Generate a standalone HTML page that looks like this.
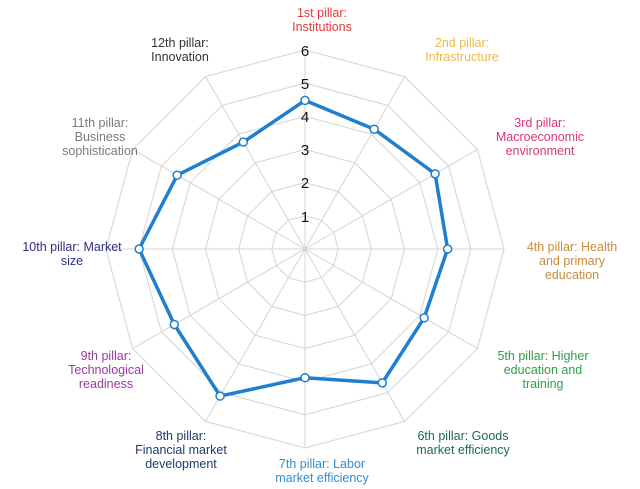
<!DOCTYPE html>
<html><head><meta charset="utf-8"><style>
body{margin:0;background:#fff;}
svg{display:block;font-family:"Liberation Sans",Arial,sans-serif;}
</style></head><body>
<svg id="s" width="640" height="489" viewBox="0 0 640 489" xmlns="http://www.w3.org/2000/svg">
<g id="grid" stroke="#d4d4d4" stroke-width="1" fill="none"></g>
<g id="ticks" font-size="15" fill="#111" text-anchor="middle">
<text x="305" y="56">6</text>
<text x="305" y="89">5</text>
<text x="305" y="122">4</text>
<text x="305" y="155">3</text>
<text x="305" y="188">2</text>
<text x="305" y="222">1</text>
</g>
<polygon id="data" fill="none" stroke="#1f7fce" stroke-width="3.5" stroke-linejoin="round"></polygon>
<g id="pts" fill="#fff" stroke="#1f7fce" stroke-width="1.5"></g>
<g font-size="12.5" text-anchor="middle">
<text fill="#e03a3a"><tspan x="322" y="17">1st pillar:</tspan><tspan x="322" y="31">Institutions</tspan></text>
<text fill="#f2b84b"><tspan x="462" y="47">2nd pillar:</tspan><tspan x="462" y="61">Infrastructure</tspan></text>
<text fill="#d9357a"><tspan x="540" y="127">3rd pillar:</tspan><tspan x="540" y="141">Macroeconomic</tspan><tspan x="540" y="155">environment</tspan></text>
<text fill="#c98a3c"><tspan x="572" y="251">4th pillar: Health</tspan><tspan x="572" y="265">and primary</tspan><tspan x="572" y="279">education</tspan></text>
<text fill="#2e9e46"><tspan x="543" y="360">5th pillar: Higher</tspan><tspan x="543" y="374">education and</tspan><tspan x="543" y="388">training</tspan></text>
<text fill="#1f6a4a"><tspan x="463" y="440">6th pillar: Goods</tspan><tspan x="463" y="454">market efficiency</tspan></text>
<text fill="#2f8fd0"><tspan x="322" y="468">7th pillar: Labor</tspan><tspan x="322" y="482">market efficiency</tspan></text>
<text fill="#1b3b6e"><tspan x="181" y="440">8th pillar:</tspan><tspan x="181" y="454">Financial market</tspan><tspan x="181" y="468">development</tspan></text>
<text fill="#9a3a9e"><tspan x="106" y="360">9th pillar:</tspan><tspan x="106" y="374">Technological</tspan><tspan x="106" y="388">readiness</tspan></text>
<text fill="#2e2e7e"><tspan x="72" y="251">10th pillar: Market</tspan><tspan x="72" y="265">size</tspan></text>
<text fill="#7a7a7a"><tspan x="100" y="127">11th pillar:</tspan><tspan x="100" y="141">Business</tspan><tspan x="100" y="155">sophistication</tspan></text>
<text fill="#333"><tspan x="180" y="47">12th pillar:</tspan><tspan x="180" y="61">Innovation</tspan></text>
</g>
</svg>
<script>
(function(){
var cx=305,cy=249,u=33.17,ns="http://www.w3.org/2000/svg";
var g=document.getElementById('grid');
function pt(i,r){var a=(i*30-90)*Math.PI/180;return [cx+r*Math.cos(a),cy+r*Math.sin(a)];}
for(var k=1;k<=6;k++){var p=[];for(var i=0;i<12;i++){var q=pt(i,k*u);p.push(q[0].toFixed(1)+','+q[1].toFixed(1));}
var e=document.createElementNS(ns,'polygon');e.setAttribute('points',p.join(' '));g.appendChild(e);}
for(var i=0;i<12;i++){var q=pt(i,6*u);var l=document.createElementNS(ns,'line');l.setAttribute('x1',cx);l.setAttribute('y1',cy);l.setAttribute('x2',q[0]);l.setAttribute('y2',q[1]);g.appendChild(l);}
var v=[4.48,4.17,4.53,4.3,4.15,4.66,3.88,5.12,4.55,5.0,4.45,3.72];
var pp=[],P=document.getElementById('pts');
for(var i=0;i<12;i++){var q=pt(i,v[i]*u);pp.push(q[0].toFixed(1)+','+q[1].toFixed(1));
var c=document.createElementNS(ns,'circle');c.setAttribute('cx',q[0]);c.setAttribute('cy',q[1]);c.setAttribute('r',4);P.appendChild(c);}
document.getElementById('data').setAttribute('points',pp.join(' '));
})();
</script>
</body></html>
